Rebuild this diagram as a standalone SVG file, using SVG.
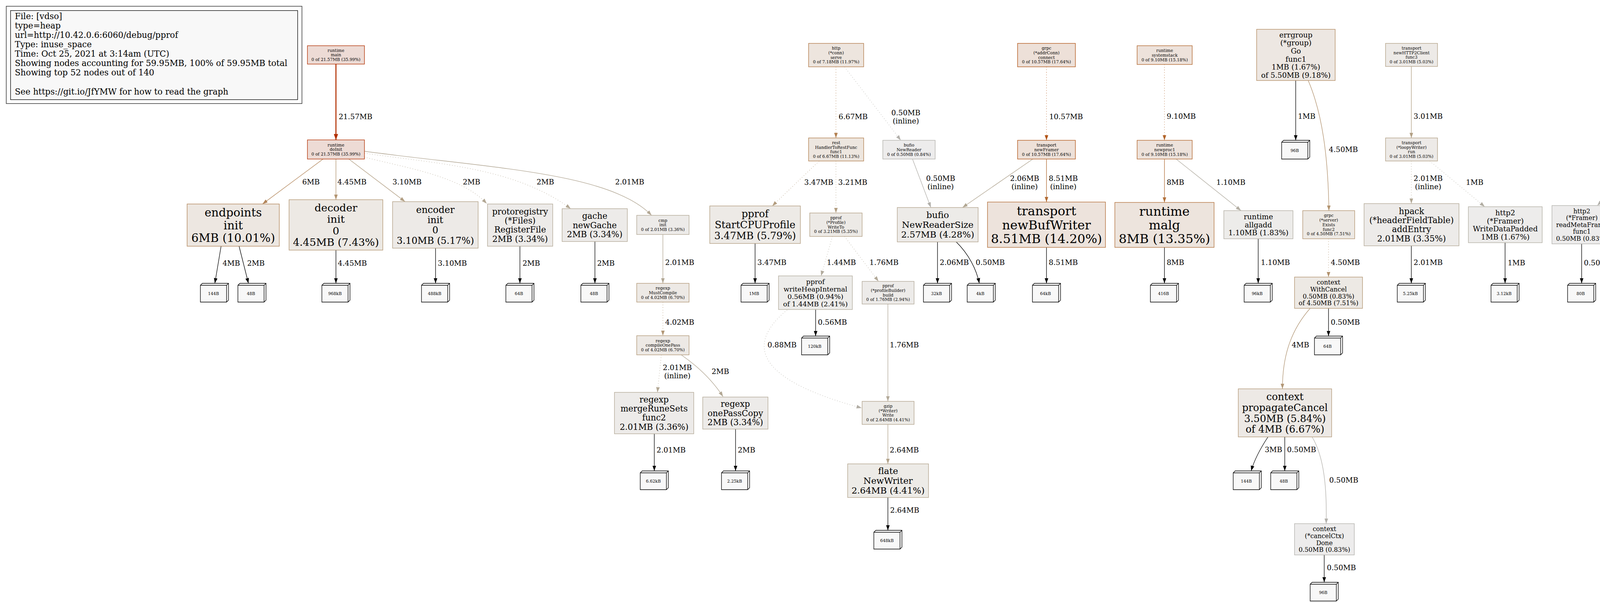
<svg xmlns="http://www.w3.org/2000/svg" xmlns:xlink="http://www.w3.org/1999/xlink" width="5163" height="1543" viewBox="0 0 5163 1543">
<style>
text{font-family:"DejaVu Serif","Liberation Serif",serif;text-anchor:middle;fill:#000}
.t8{font-size:10.67px}.t12{font-size:16px}.t13{font-size:17.33px}.t14{font-size:18.67px}.t16{font-size:21.33px}.t17{font-size:22.67px}.t18{font-size:24px}.t19{font-size:25.33px}.t20{font-size:26.67px}.t22{font-size:29.33px}.t24{font-size:32px}
.el{font-size:18.67px}
.lg{font-size:21.33px;text-anchor:start}
.node rect{stroke-width:1.33}
.leaf{fill:#f8f8f8;stroke:#000;stroke-width:1.33}
.e{fill:none;stroke-width:1.33}
.dot{stroke-dasharray:1.33 5.33}
.ck{stroke:#000;marker-end:url(#mk)}
.c2157{stroke:#b22f00;stroke-width:2.67;marker-end:url(#m2157)}
.c1057{stroke:#b25415;marker-end:url(#m1057)}
.c910{stroke:#b2652b;marker-end:url(#m910)}
.c851{stroke:#b26b33;marker-end:url(#m851)}
.c800{stroke:#b2713b;marker-end:url(#m800)}
.c667{stroke:#b27f4f;marker-end:url(#m667)}
.c600{stroke:#b28559;marker-end:url(#m600)}
.c450{stroke:#b2936f;marker-end:url(#m450)}
.c445{stroke:#b29470;marker-end:url(#m445)}
.c402{stroke:#b29776;marker-end:url(#m402)}
.c347{stroke:#b29c7e;marker-end:url(#m347)}
.c321{stroke:#b29e82;marker-end:url(#m321)}
.c310{stroke:#b29f84;marker-end:url(#m310)}
.c301{stroke:#b2a085;marker-end:url(#m301)}
.c264{stroke:#b2a38b;marker-end:url(#m264)}
.c206{stroke:#b2a793;marker-end:url(#m206)}
.c201{stroke:#b2a794;marker-end:url(#m201)}
.c176{stroke:#b2a998;marker-end:url(#m176)}
.c144{stroke:#b2ab9d;marker-end:url(#m144)}
.c110{stroke:#b2ada2;marker-end:url(#m110)}
.c101{stroke:#b2aea3;marker-end:url(#m101)}
.c088{stroke:#b2aea5;marker-end:url(#m088)}
.c050{stroke:#b2b0ab;marker-end:url(#m050)}
.n36{fill:#eddbd5;stroke:#b22f00}
.n176{fill:#ede0d8;stroke:#b25415}
.n152{fill:#ede2db;stroke:#b2652b}
.n142{fill:#ede3dc;stroke:#b26b33}
.n134{fill:#ede4dd;stroke:#b2713b}
.n120{fill:#ede5de;stroke:#b27947}
.n111{fill:#ede6df;stroke:#b27f4f}
.n100{fill:#ede7e1;stroke:#b28559}
.n092{fill:#ede7e2;stroke:#b28a60}
.n075{fill:#ede9e4;stroke:#b2936f}
.n074{fill:#ede9e4;stroke:#b29470}
.n067{fill:#ede9e5;stroke:#b29776}
.n058{fill:#edeae6;stroke:#b29c7e}
.n054{fill:#edeae6;stroke:#b29e82}
.n052{fill:#edeae7;stroke:#b29f84}
.n050{fill:#edeae7;stroke:#b2a085}
.n044{fill:#edebe7;stroke:#b2a38b}
.n043{fill:#edebe8;stroke:#b2a38c}
.n034{fill:#edebe9;stroke:#b2a794}
.n029{fill:#edebe9;stroke:#b2a998}
.n025{fill:#edecea;stroke:#b2ab9c}
.n018{fill:#edecea;stroke:#b2ada2}
.n017{fill:#edeceb;stroke:#b2aea3}
.n008{fill:#edecec;stroke:#b2b0ab}
</style>
<defs>
<path id="leaf" class="leaf" d="M0,5 L5,0 L72,0 L72,43 L67,48 L0,48 Z M0,5 L67,5 L72,0 M67,5 L67,48"/>
<marker id="mk" viewBox="0 0 13.3 9.3" refX="13.3" refY="4.65" markerWidth="13.3" markerHeight="9.3" markerUnits="userSpaceOnUse" orient="auto"><path d="M0,0L13.3,4.65L0,9.3z" fill="#000"/></marker>
<marker id="m2157" viewBox="0 0 15 11" refX="15" refY="5.5" markerWidth="15" markerHeight="11" markerUnits="userSpaceOnUse" orient="auto"><path d="M0,0L15,5.5L0,11z" fill="#b22f00"/></marker>
<marker id="m1057" viewBox="0 0 13.3 9.3" refX="13.3" refY="4.65" markerWidth="13.3" markerHeight="9.3" markerUnits="userSpaceOnUse" orient="auto"><path d="M0,0L13.3,4.65L0,9.3z" fill="#b25415"/></marker>
<marker id="m910" viewBox="0 0 13.3 9.3" refX="13.3" refY="4.65" markerWidth="13.3" markerHeight="9.3" markerUnits="userSpaceOnUse" orient="auto"><path d="M0,0L13.3,4.65L0,9.3z" fill="#b2652b"/></marker>
<marker id="m851" viewBox="0 0 13.3 9.3" refX="13.3" refY="4.65" markerWidth="13.3" markerHeight="9.3" markerUnits="userSpaceOnUse" orient="auto"><path d="M0,0L13.3,4.65L0,9.3z" fill="#b26b33"/></marker>
<marker id="m800" viewBox="0 0 13.3 9.3" refX="13.3" refY="4.65" markerWidth="13.3" markerHeight="9.3" markerUnits="userSpaceOnUse" orient="auto"><path d="M0,0L13.3,4.65L0,9.3z" fill="#b2713b"/></marker>
<marker id="m667" viewBox="0 0 13.3 9.3" refX="13.3" refY="4.65" markerWidth="13.3" markerHeight="9.3" markerUnits="userSpaceOnUse" orient="auto"><path d="M0,0L13.3,4.65L0,9.3z" fill="#b27f4f"/></marker>
<marker id="m600" viewBox="0 0 13.3 9.3" refX="13.3" refY="4.65" markerWidth="13.3" markerHeight="9.3" markerUnits="userSpaceOnUse" orient="auto"><path d="M0,0L13.3,4.65L0,9.3z" fill="#b28559"/></marker>
<marker id="m450" viewBox="0 0 13.3 9.3" refX="13.3" refY="4.65" markerWidth="13.3" markerHeight="9.3" markerUnits="userSpaceOnUse" orient="auto"><path d="M0,0L13.3,4.65L0,9.3z" fill="#b2936f"/></marker>
<marker id="m445" viewBox="0 0 13.3 9.3" refX="13.3" refY="4.65" markerWidth="13.3" markerHeight="9.3" markerUnits="userSpaceOnUse" orient="auto"><path d="M0,0L13.3,4.65L0,9.3z" fill="#b29470"/></marker>
<marker id="m402" viewBox="0 0 13.3 9.3" refX="13.3" refY="4.65" markerWidth="13.3" markerHeight="9.3" markerUnits="userSpaceOnUse" orient="auto"><path d="M0,0L13.3,4.65L0,9.3z" fill="#b29776"/></marker>
<marker id="m347" viewBox="0 0 13.3 9.3" refX="13.3" refY="4.65" markerWidth="13.3" markerHeight="9.3" markerUnits="userSpaceOnUse" orient="auto"><path d="M0,0L13.3,4.65L0,9.3z" fill="#b29c7e"/></marker>
<marker id="m321" viewBox="0 0 13.3 9.3" refX="13.3" refY="4.65" markerWidth="13.3" markerHeight="9.3" markerUnits="userSpaceOnUse" orient="auto"><path d="M0,0L13.3,4.65L0,9.3z" fill="#b29e82"/></marker>
<marker id="m310" viewBox="0 0 13.3 9.3" refX="13.3" refY="4.65" markerWidth="13.3" markerHeight="9.3" markerUnits="userSpaceOnUse" orient="auto"><path d="M0,0L13.3,4.65L0,9.3z" fill="#b29f84"/></marker>
<marker id="m301" viewBox="0 0 13.3 9.3" refX="13.3" refY="4.65" markerWidth="13.3" markerHeight="9.3" markerUnits="userSpaceOnUse" orient="auto"><path d="M0,0L13.3,4.65L0,9.3z" fill="#b2a085"/></marker>
<marker id="m264" viewBox="0 0 13.3 9.3" refX="13.3" refY="4.65" markerWidth="13.3" markerHeight="9.3" markerUnits="userSpaceOnUse" orient="auto"><path d="M0,0L13.3,4.65L0,9.3z" fill="#b2a38b"/></marker>
<marker id="m206" viewBox="0 0 13.3 9.3" refX="13.3" refY="4.65" markerWidth="13.3" markerHeight="9.3" markerUnits="userSpaceOnUse" orient="auto"><path d="M0,0L13.3,4.65L0,9.3z" fill="#b2a793"/></marker>
<marker id="m201" viewBox="0 0 13.3 9.3" refX="13.3" refY="4.65" markerWidth="13.3" markerHeight="9.3" markerUnits="userSpaceOnUse" orient="auto"><path d="M0,0L13.3,4.65L0,9.3z" fill="#b2a794"/></marker>
<marker id="m176" viewBox="0 0 13.3 9.3" refX="13.3" refY="4.65" markerWidth="13.3" markerHeight="9.3" markerUnits="userSpaceOnUse" orient="auto"><path d="M0,0L13.3,4.65L0,9.3z" fill="#b2a998"/></marker>
<marker id="m144" viewBox="0 0 13.3 9.3" refX="13.3" refY="4.65" markerWidth="13.3" markerHeight="9.3" markerUnits="userSpaceOnUse" orient="auto"><path d="M0,0L13.3,4.65L0,9.3z" fill="#b2ab9d"/></marker>
<marker id="m110" viewBox="0 0 13.3 9.3" refX="13.3" refY="4.65" markerWidth="13.3" markerHeight="9.3" markerUnits="userSpaceOnUse" orient="auto"><path d="M0,0L13.3,4.65L0,9.3z" fill="#b2ada2"/></marker>
<marker id="m101" viewBox="0 0 13.3 9.3" refX="13.3" refY="4.65" markerWidth="13.3" markerHeight="9.3" markerUnits="userSpaceOnUse" orient="auto"><path d="M0,0L13.3,4.65L0,9.3z" fill="#b2aea3"/></marker>
<marker id="m088" viewBox="0 0 13.3 9.3" refX="13.3" refY="4.65" markerWidth="13.3" markerHeight="9.3" markerUnits="userSpaceOnUse" orient="auto"><path d="M0,0L13.3,4.65L0,9.3z" fill="#b2aea5"/></marker>
<marker id="m050" viewBox="0 0 13.3 9.3" refX="13.3" refY="4.65" markerWidth="13.3" markerHeight="9.3" markerUnits="userSpaceOnUse" orient="auto"><path d="M0,0L13.3,4.65L0,9.3z" fill="#b2b0ab"/></marker>
</defs>
<rect width="5163" height="1543" fill="#fff"/>

<g id="legend">
<rect x="16" y="16" width="757" height="249" fill="none" stroke="#444" stroke-width="1.6"/>
<rect x="27" y="27" width="735" height="228" fill="#f8f8f8" stroke="#000" stroke-width="1.33"/>
<text class="lg" x="38" y="49">File: [vdso]</text>
<text class="lg" x="38" y="73">type=heap</text>
<text class="lg" x="38" y="97">url=http://10.42.0.6:6060/debug/pprof</text>
<text class="lg" x="38" y="121">Type: inuse_space</text>
<text class="lg" x="38" y="145">Time: Oct 25, 2021 at 3:14am (UTC)</text>
<text class="lg" x="38" y="169">Showing nodes accounting for 59.95MB, 100% of 59.95MB total</text>
<text class="lg" x="38" y="193">Showing top 52 nodes out of 140</text>
<text class="lg" x="38" y="242">See https://git.io/JfYMW for how to read the graph</text>
</g>

<g id="edges">
<g id="E1"><path class="e c2157" d="M860,164 L860,358"/><text class="el" x="910" y="305">21.57MB</text></g>
<g id="E2"><path class="e c600" d="M827,407 L672,522"/><text class="el" x="796" y="472">6MB</text></g>
<g id="E3"><path class="e c445" d="M860,407 L860,511"/><text class="el" x="901" y="472">4.45MB</text></g>
<g id="E4"><path class="e c310" d="M893,407 L1037,516"/><text class="el" x="1042" y="472">3.10MB</text></g>
<g id="E5"><path class="e c201 dot" d="M933,402 C1040,430 1180,450 1246,521"/><text class="el" x="1207" y="472">2MB</text></g>
<g id="E6"><path class="e c201 dot" d="M933,392 C1130,420 1320,430 1461,534"/><text class="el" x="1396" y="472">2MB</text></g>
<g id="E7"><path class="e c201" d="M933,387 C1250,430 1560,440 1668,551"/><text class="el" x="1612" y="472">2.01MB</text></g>
<g id="E8"><path class="e ck" d="M566,630 L550,725"/><text class="el" x="592" y="680">4MB</text></g>
<g id="E9"><path class="e ck" d="M612,630 L636,725"/><text class="el" x="655" y="680">2MB</text></g>
<g id="E10"><path class="e ck" d="M860,640 L860,725"/><text class="el" x="902" y="680">4.45MB</text></g>
<g id="E11"><path class="e ck" d="M1115,635 L1115,725"/><text class="el" x="1158" y="680">3.10MB</text></g>
<g id="E12"><path class="e ck" d="M1331,630 L1331,725"/><text class="el" x="1360" y="680">2MB</text></g>
<g id="E13"><path class="e ck" d="M1523,618 L1523,725"/><text class="el" x="1551" y="680">2MB</text></g>
<g id="E14"><path class="e c201" d="M1697,600 L1697,725"/><text class="el" x="1740" y="678">2.01MB</text></g>
<g id="E15"><path class="e c402 dot" d="M1697,773 L1697,859"/><text class="el" x="1740" y="831">4.02MB</text></g>
<g id="E16"><path class="e c201 dot" d="M1693,908 L1683,1004"/><text class="el" x="1734" y="947">2.01MB</text><text class="el" x="1734" y="968">(inline)</text></g>
<g id="E17"><path class="e c201" d="M1744,908 C1790,940 1825,975 1851,1015"/><text class="el" x="1844" y="957">2MB</text></g>
<g id="E18"><path class="e ck" d="M1675,1110 L1675,1205"/><text class="el" x="1718" y="1158">2.01MB</text></g>
<g id="E19"><path class="e ck" d="M1883,1098 L1883,1205"/><text class="el" x="1911" y="1158">2MB</text></g>
<g id="E20"><path class="e c667 dot" d="M2140,171 L2140,353"/><text class="el" x="2184" y="305">6.67MB</text></g>
<g id="E21"><path class="e c050 dot" d="M2162,171 L2306,359"/><text class="el" x="2319" y="295">0.50MB</text><text class="el" x="2319" y="316">(inline)</text></g>
<g id="E22"><path class="e c347 dot" d="M2097,412 L1977,527"/><text class="el" x="2096" y="473">3.47MB</text></g>
<g id="E23"><path class="e c321 dot" d="M2140,412 L2140,545"/><text class="el" x="2183" y="473">3.21MB</text></g>
<g id="E24"><path class="e ck" d="M1933,623 L1933,725"/><text class="el" x="1976" y="678">3.47MB</text></g>
<g id="E25"><path class="e c144 dot" d="M2131,605 L2102,706"/><text class="el" x="2154" y="678">1.44MB</text></g>
<g id="E26"><path class="e c176 dot" d="M2162,605 L2249,720"/><text class="el" x="2263" y="678">1.76MB</text></g>
<g id="E27"><path class="e ck" d="M2088,792 L2088,860"/><text class="el" x="2131" y="831">0.56MB</text></g>
<g id="E28"><path class="e c088 dot" d="M2015,793 C1910,880 1930,970 2206,1044"/><text class="el" x="2002" y="889">0.88MB</text></g>
<g id="E29"><path class="e c176" d="M2273,778 L2273,1027"/><text class="el" x="2315" y="889">1.76MB</text></g>
<g id="E30"><path class="e c264" d="M2273,1086 L2273,1187"/><text class="el" x="2315" y="1158">2.64MB</text></g>
<g id="E31"><path class="e ck" d="M2273,1273 L2273,1357"/><text class="el" x="2316" y="1312">2.64MB</text></g>
<g id="E32"><path class="e c050" d="M2336,407 L2383,531"/><text class="el" x="2408" y="463">0.50MB</text><text class="el" x="2408" y="484">(inline)</text></g>
<g id="E33"><path class="e c1057 dot" d="M2679,171 L2679,359"/><text class="el" x="2729" y="305">10.57MB</text></g>
<g id="E34"><path class="e c206" d="M2644,407 L2464,531"/><text class="el" x="2623" y="463">2.06MB</text><text class="el" x="2623" y="484">(inline)</text></g>
<g id="E35"><path class="e c851" d="M2679,407 L2679,517"/><text class="el" x="2722" y="463">8.51MB</text><text class="el" x="2722" y="484">(inline)</text></g>
<g id="E36"><path class="e ck" d="M2400,619 L2400,725"/><text class="el" x="2443" y="678">2.06MB</text></g>
<g id="E37"><path class="e ck" d="M2447,618 C2480,650 2500,690 2507,725"/><text class="el" x="2535" y="678">0.50MB</text></g>
<g id="E38"><path class="e ck" d="M2679,633 L2679,725"/><text class="el" x="2722" y="678">8.51MB</text></g>
<g id="E39"><path class="e c910 dot" d="M2981,165 L2981,359"/><text class="el" x="3024" y="304">9.10MB</text></g>
<g id="E40"><path class="e c800" d="M2981,407 L2981,518"/><text class="el" x="3009" y="473">8MB</text></g>
<g id="E41"><path class="e c110" d="M3011,407 L3177,539"/><text class="el" x="3151" y="473">1.10MB</text></g>
<g id="E42"><path class="e ck" d="M2981,633 L2981,725"/><text class="el" x="3009" y="678">8MB</text></g>
<g id="E43"><path class="e ck" d="M3221,611 L3221,725"/><text class="el" x="3265" y="678">1.10MB</text></g>
<g id="E44"><path class="e ck" d="M3317,206 L3317,359"/><text class="el" x="3345" y="304">1MB</text></g>
<g id="E45"><path class="e c450" d="M3349,206 C3385,290 3400,400 3402,539"/><text class="el" x="3439" y="389">4.50MB</text></g>
<g id="E46"><path class="e c450 dot" d="M3401,611 L3401,709"/><text class="el" x="3444" y="678">4.50MB</text></g>
<g id="E47"><path class="e ck" d="M3401,789 L3401,860"/><text class="el" x="3444" y="831">0.50MB</text></g>
<g id="E48"><path class="e c402" d="M3354,789 C3300,850 3283,920 3283,995"/><text class="el" x="3329" y="889">4MB</text></g>
<g id="E49"><path class="e ck" d="M3246,1118 C3225,1150 3210,1180 3203,1205"/><text class="el" x="3260" y="1157">3MB</text></g>
<g id="E50"><path class="e ck" d="M3289,1118 L3289,1205"/><text class="el" x="3332" y="1157">0.50MB</text></g>
<g id="E51"><path class="e c050" d="M3359,1118 C3390,1170 3397,1250 3395,1340"/><text class="el" x="3440" y="1235">0.50MB</text></g>
<g id="E52"><path class="e ck" d="M3390,1420 L3390,1490"/><text class="el" x="3434" y="1459">0.50MB</text></g>
<g id="E53"><path class="e c301" d="M3613,170 L3613,353"/><text class="el" x="3656" y="304">3.01MB</text></g>
<g id="E54"><path class="e c201 dot" d="M3613,412 L3613,521"/><text class="el" x="3656" y="463">2.01MB</text><text class="el" x="3656" y="484">(inline)</text></g>
<g id="E55"><path class="e c101 dot" d="M3660,412 L3801,529"/><text class="el" x="3775" y="473">1MB</text></g>
<g id="E56"><path class="e ck" d="M3613,629 L3613,725"/><text class="el" x="3656" y="678">2.01MB</text></g>
<g id="E57"><path class="e ck" d="M3853,621 L3853,725"/><text class="el" x="3882" y="679">1MB</text></g>
<g id="E58"><path class="e c101" d="M4245,170 L4245,353"/><text class="el" x="4274" y="305">1MB</text></g>
<g id="E59"><path class="e c050 dot" d="M4264,170 L4388,359"/><text class="el" x="4405" y="305">0.50MB</text></g>
<g id="E60"><path class="e c050 dot" d="M4202,412 L4089,526"/><text class="el" x="4202" y="472">0.50MB</text></g>
<g id="E61"><path class="e c050" d="M4245,412 L4245,543"/><text class="el" x="4288" y="472">0.50MB</text></g>
<g id="E62"><path class="e c050 dot" d="M4407,407 L4426,545"/><text class="el" x="4461" y="472">0.50MB</text></g>
<g id="E63"><path class="e ck" d="M4049,624 L4049,725"/><text class="el" x="4092" y="679">0.50MB</text></g>
<g id="E64"><path class="e ck" d="M4244,607 L4244,725"/><text class="el" x="4287" y="679">0.50MB</text></g>
<g id="E65"><path class="e c050" d="M4429,604 L4429,719"/><text class="el" x="4472" y="679">0.50MB</text></g>
<g id="E66"><path class="e ck" d="M4429,783 L4429,860"/><text class="el" x="4472" y="833">0.50MB</text></g>
<g id="E67"><path class="e c101 dot" d="M4805,165 L4805,359"/><text class="el" x="4849" y="304">1.01MB</text></g>
<g id="E68"><path class="e c101 dot" d="M4770,407 L4646,529"/><text class="el" x="4762" y="473">1.01MB</text></g>
<g id="E69"><path class="e c101" d="M4805,407 L4805,551"/><text class="el" x="4849" y="473">1.01MB</text></g>
<g id="E70"><path class="e ck" d="M4610,621 L4610,725"/><text class="el" x="4653" y="678">1.01MB</text></g>
<g id="E71"><path class="e c101 dot" d="M4772,599 C4728,640 4745,695 4779,725"/><text class="el" x="4777" y="678">1.01MB</text></g>
<g id="E72"><path class="e c101 dot" d="M4831,725 L4811,599"/><text class="el" x="4867" y="678">1.01MB</text></g>
<g id="E73"><path class="e c101 dot" d="M4874,725 C4940,640 4935,480 4858,407"/><text class="el" x="4981" y="580">1.01MB</text></g>
<g id="E74"><path class="e c050 dot" d="M5079,182 L5079,343"/><text class="el" x="5122" y="304">0.50MB</text></g>
<g id="E75"><path class="e ck" d="M5079,423 L5079,551"/><text class="el" x="5122" y="473">0.50MB</text></g>
</g>

<g id="nodes">
<g id="N_main" class="node"><rect class="n36" x="787" y="117" width="146" height="47"/><text class="t8"><tspan x="860" y="132.6">runtime</tspan><tspan x="860" y="144.3">main</tspan><tspan x="860" y="156.1">0 of 21.57MB (35.99%)</tspan></text></g>
<g id="N_doInit" class="node"><rect class="n36" x="787" y="358" width="146" height="49"/><text class="t8"><tspan x="860" y="374.6">runtime</tspan><tspan x="860" y="386.3">doInit</tspan><tspan x="860" y="398.1">0 of 21.57MB (35.99%)</tspan></text></g>
<g id="N_endpoints" class="node"><rect class="n100" x="479" y="522" width="236" height="108"/><text class="t22"><tspan x="597" y="554.3">endpoints</tspan><tspan x="597" y="586.6">init</tspan><tspan x="597" y="618.8">6MB (10.01%)</tspan></text></g>
<g id="N_decoder" class="node"><rect class="n074" x="740" y="511" width="240" height="129"/><text class="t20"><tspan x="860" y="541.1">decoder</tspan><tspan x="860" y="570.4">init</tspan><tspan x="860" y="599.8">0</tspan><tspan x="860" y="629.1">4.45MB (7.43%)</tspan></text></g>
<g id="N_encoder" class="node"><rect class="n052" x="1005" y="516" width="219" height="119"/><text class="t18"><tspan x="1114.5" y="544.5">encoder</tspan><tspan x="1114.5" y="570.9">init</tspan><tspan x="1114.5" y="597.3">0</tspan><tspan x="1114.5" y="623.7">3.10MB (5.17%)</tspan></text></g>
<g id="N_protoregistry" class="node"><rect class="n034" x="1248" y="522" width="167" height="108"/><text class="t16"><tspan x="1331.5" y="548.5">protoregistry</tspan><tspan x="1331.5" y="572">(*Files)</tspan><tspan x="1331.5" y="595.4">RegisterFile</tspan><tspan x="1331.5" y="618.9">2MB (3.34%)</tspan></text></g>
<g id="N_gache" class="node"><rect class="n034" x="1439" y="534" width="167" height="84"/><text class="t16"><tspan x="1522.5" y="560.2">gache</tspan><tspan x="1522.5" y="583.7">newGache</tspan><tspan x="1522.5" y="607.2">2MB (3.34%)</tspan></text></g>
<g id="N_cmpinit" class="node"><rect class="n034" x="1630" y="551" width="134" height="49"/><text class="t8"><tspan x="1697" y="567.6">cmp</tspan><tspan x="1697" y="579.3">init</tspan><tspan x="1697" y="591.1">0 of 2.01MB (3.36%)</tspan></text></g>
<g id="N_mustcompile" class="node"><rect class="n067" x="1630" y="725" width="134" height="48"/><text class="t8"><tspan x="1697" y="741.1">regexp</tspan><tspan x="1697" y="752.8">MustCompile</tspan><tspan x="1697" y="764.6">0 of 4.02MB (6.70%)</tspan></text></g>
<g id="N_compileonepass" class="node"><rect class="n067" x="1630" y="859" width="134" height="49"/><text class="t8"><tspan x="1697" y="875.6">regexp</tspan><tspan x="1697" y="887.3">compileOnePass</tspan><tspan x="1697" y="899.1">0 of 4.02MB (6.70%)</tspan></text></g>
<g id="N_mergerunesets" class="node"><rect class="n034" x="1573" y="1004" width="203" height="106"/><text class="t16"><tspan x="1674.5" y="1029.5">regexp</tspan><tspan x="1674.5" y="1053">mergeRuneSets</tspan><tspan x="1674.5" y="1076.4">func2</tspan><tspan x="1674.5" y="1099.9">2.01MB (3.36%)</tspan></text></g>
<g id="N_onepasscopy" class="node"><rect class="n034" x="1799" y="1016" width="167" height="82"/><text class="t16"><tspan x="1882.5" y="1041.2">regexp</tspan><tspan x="1882.5" y="1064.7">onePassCopy</tspan><tspan x="1882.5" y="1088.2">2MB (3.34%)</tspan></text></g>
<g id="N_startcpu" class="node"><rect class="n058" x="1817" y="527" width="232" height="96"/><text class="t19"><tspan x="1933" y="556.3">pprof</tspan><tspan x="1933" y="584.1">StartCPUProfile</tspan><tspan x="1933" y="612">3.47MB (5.79%)</tspan></text></g>
<g id="N_httpserve" class="node"><rect class="n120" x="2070" y="111" width="141" height="60"/><text class="t8"><tspan x="2140.5" y="127.2">http</tspan><tspan x="2140.5" y="139">(*conn)</tspan><tspan x="2140.5" y="150.7">serve</tspan><tspan x="2140.5" y="162.4">0 of 7.18MB (11.97%)</tspan></text></g>
<g id="N_handler" class="node"><rect class="n111" x="2070" y="353" width="141" height="59"/><text class="t8"><tspan x="2140.5" y="368.7">rest</tspan><tspan x="2140.5" y="380.5">HandlerToRestFunc</tspan><tspan x="2140.5" y="392.2">func1</tspan><tspan x="2140.5" y="403.9">0 of 6.67MB (11.13%)</tspan></text></g>
<g id="N_writeto" class="node"><rect class="n054" x="2073" y="545" width="134" height="60"/><text class="t8"><tspan x="2140" y="561.2">pprof</tspan><tspan x="2140" y="573">(*Profile)</tspan><tspan x="2140" y="584.7">WriteTo</tspan><tspan x="2140" y="596.4">0 of 3.21MB (5.35%)</tspan></text></g>
<g id="N_writeheap" class="node"><rect class="n025" x="1993" y="706" width="189" height="86"/><text class="t13"><tspan x="2087.5" y="726.6">pprof</tspan><tspan x="2087.5" y="745.7">writeHeapInternal</tspan><tspan x="2087.5" y="764.8">0.56MB (0.94%)</tspan><tspan x="2087.5" y="783.9">of 1.44MB (2.41%)</tspan></text></g>
<g id="N_build" class="node"><rect class="n029" x="2207" y="720" width="133" height="58"/><text class="t8"><tspan x="2273.5" y="735.2">pprof</tspan><tspan x="2273.5" y="747">(*profileBuilder)</tspan><tspan x="2273.5" y="758.7">build</tspan><tspan x="2273.5" y="770.4">0 of 1.76MB (2.94%)</tspan></text></g>
<g id="N_gzip" class="node"><rect class="n044" x="2207" y="1027" width="133" height="59"/><text class="t8"><tspan x="2273.5" y="1042.7">gzip</tspan><tspan x="2273.5" y="1054.5">(*Writer)</tspan><tspan x="2273.5" y="1066.2">Write</tspan><tspan x="2273.5" y="1077.9">0 of 2.64MB (4.41%)</tspan></text></g>
<g id="N_flate" class="node"><rect class="n044" x="2170" y="1187" width="207" height="86"/><text class="t17"><tspan x="2273.5" y="1213.2">flate</tspan><tspan x="2273.5" y="1238.2">NewWriter</tspan><tspan x="2273.5" y="1263.1">2.64MB (4.41%)</tspan></text></g>
<g id="N_newreader" class="node"><rect class="n008" x="2260" y="359" width="134" height="48"/><text class="t8"><tspan x="2327" y="375.1">bufio</tspan><tspan x="2327" y="386.8">NewReader</tspan><tspan x="2327" y="398.6">0 of 0.50MB (0.84%)</tspan></text></g>
<g id="N_newreadersize" class="node"><rect class="n043" x="2297" y="531" width="207" height="88"/><text class="t17"><tspan x="2400.5" y="558.2">bufio</tspan><tspan x="2400.5" y="583.2">NewReaderSize</tspan><tspan x="2400.5" y="608.1">2.57MB (4.28%)</tspan></text></g>
<g id="N_connect" class="node"><rect class="n176" x="2605" y="111" width="148" height="60"/><text class="t8"><tspan x="2679" y="127.2">grpc</tspan><tspan x="2679" y="139">(*addrConn)</tspan><tspan x="2679" y="150.7">connect</tspan><tspan x="2679" y="162.4">0 of 10.57MB (17.64%)</tspan></text></g>
<g id="N_newframer" class="node"><rect class="n176" x="2605" y="359" width="148" height="48"/><text class="t8"><tspan x="2679" y="375.1">transport</tspan><tspan x="2679" y="386.8">newFramer</tspan><tspan x="2679" y="398.6">0 of 10.57MB (17.64%)</tspan></text></g>
<g id="N_newbufwriter" class="node"><rect class="n142" x="2528" y="517" width="302" height="116"/><text class="t24"><tspan x="2679" y="551.3">transport</tspan><tspan x="2679" y="586.5">newBufWriter</tspan><tspan x="2679" y="621.7">8.51MB (14.20%)</tspan></text></g>
<g id="N_systemstack" class="node"><rect class="n152" x="2911" y="117" width="141" height="48"/><text class="t8"><tspan x="2981.5" y="133.1">runtime</tspan><tspan x="2981.5" y="144.8">systemstack</tspan><tspan x="2981.5" y="156.6">0 of 9.10MB (15.18%)</tspan></text></g>
<g id="N_newproc1" class="node"><rect class="n152" x="2911" y="359" width="141" height="48"/><text class="t8"><tspan x="2981.5" y="375.1">runtime</tspan><tspan x="2981.5" y="386.8">newproc1</tspan><tspan x="2981.5" y="398.6">0 of 9.10MB (15.18%)</tspan></text></g>
<g id="N_malg" class="node"><rect class="n134" x="2854" y="518" width="254" height="115"/><text class="t24"><tspan x="2981" y="551.8">runtime</tspan><tspan x="2981" y="587">malg</tspan><tspan x="2981" y="622.2">8MB (13.35%)</tspan></text></g>
<g id="N_allgadd" class="node"><rect class="n018" x="3133" y="539" width="177" height="72"/><text class="t14"><tspan x="3221.5" y="561.2">runtime</tspan><tspan x="3221.5" y="581.7">allgadd</tspan><tspan x="3221.5" y="602.3">1.10MB (1.83%)</tspan></text></g>
<g id="N_errgroup" class="node"><rect class="n092" x="3217" y="75" width="201" height="131"/><text class="t14"><tspan x="3317.5" y="95.9">errgroup</tspan><tspan x="3317.5" y="116.4">(*group)</tspan><tspan x="3317.5" y="137">Go</tspan><tspan x="3317.5" y="157.5">func1</tspan><tspan x="3317.5" y="178">1MB (1.67%)</tspan><tspan x="3317.5" y="198.6">of 5.50MB (9.18%)</tspan></text></g>
<g id="N_exists" class="node"><rect class="n075" x="3335" y="539" width="133" height="72"/><text class="t8"><tspan x="3401.5" y="555.4">grpc</tspan><tspan x="3401.5" y="567.1">(*server)</tspan><tspan x="3401.5" y="578.8">Exists</tspan><tspan x="3401.5" y="590.6">func2</tspan><tspan x="3401.5" y="602.3">0 of 4.50MB (7.51%)</tspan></text></g>
<g id="N_withcancel" class="node"><rect class="n075" x="3314" y="709" width="174" height="80"/><text class="t12"><tspan x="3401" y="728.4">context</tspan><tspan x="3401" y="746">WithCancel</tspan><tspan x="3401" y="763.6">0.50MB (0.83%)</tspan><tspan x="3401" y="781.2">of 4.50MB (7.51%)</tspan></text></g>
<g id="N_propagatecancel" class="node"><rect class="n067" x="3170" y="995" width="239" height="123"/><text class="t19"><tspan x="3289.5" y="1023.8">context</tspan><tspan x="3289.5" y="1051.7">propagateCancel</tspan><tspan x="3289.5" y="1079.6">3.50MB (5.84%)</tspan><tspan x="3289.5" y="1107.4">of 4MB (6.67%)</tspan></text></g>
<g id="N_done" class="node"><rect class="n008" x="3314" y="1340" width="153" height="80"/><text class="t12"><tspan x="3390.5" y="1359.4">context</tspan><tspan x="3390.5" y="1377">(*cancelCtx)</tspan><tspan x="3390.5" y="1394.6">Done</tspan><tspan x="3390.5" y="1412.2">0.50MB (0.83%)</tspan></text></g>
<g id="N_http2func3" class="node"><rect class="n050" x="3547" y="111" width="133" height="59"/><text class="t8"><tspan x="3613.5" y="126.7">transport</tspan><tspan x="3613.5" y="138.5">newHTTP2Client</tspan><tspan x="3613.5" y="150.2">func3</tspan><tspan x="3613.5" y="161.9">0 of 3.01MB (5.03%)</tspan></text></g>
<g id="N_loopy" class="node"><rect class="n050" x="3547" y="353" width="133" height="59"/><text class="t8"><tspan x="3613.5" y="368.7">transport</tspan><tspan x="3613.5" y="380.5">(*loopyWriter)</tspan><tspan x="3613.5" y="392.2">run</tspan><tspan x="3613.5" y="403.9">0 of 3.01MB (5.03%)</tspan></text></g>
<g id="N_hpack" class="node"><rect class="n034" x="3492" y="521" width="243" height="108"/><text class="t16"><tspan x="3613.5" y="547.5">hpack</tspan><tspan x="3613.5" y="571">(*headerFieldTable)</tspan><tspan x="3613.5" y="594.4">addEntry</tspan><tspan x="3613.5" y="617.9">2.01MB (3.35%)</tspan></text></g>
<g id="N_writedata" class="node"><rect class="n017" x="3759" y="529" width="189" height="92"/><text class="t14"><tspan x="3853.5" y="550.9">http2</tspan><tspan x="3853.5" y="571.5">(*Framer)</tspan><tspan x="3853.5" y="592">WriteDataPadded</tspan><tspan x="3853.5" y="612.5">1MB (1.67%)</tspan></text></g>
<g id="N_reader" class="node"><rect class="n025" x="4179" y="111" width="133" height="59"/><text class="t8"><tspan x="4245.5" y="126.7">transport</tspan><tspan x="4245.5" y="138.5">(*http2Client)</tspan><tspan x="4245.5" y="150.2">reader</tspan><tspan x="4245.5" y="161.9">0 of 1.50MB (2.50%)</tspan></text></g>
<g id="N_readframe" class="node"><rect class="n017" x="4187" y="353" width="117" height="59"/><text class="t8"><tspan x="4245.5" y="368.7">http2</tspan><tspan x="4245.5" y="380.5">(*Framer)</tspan><tspan x="4245.5" y="392.2">ReadFrame</tspan><tspan x="4245.5" y="403.9">0 of 1MB (1.67%)</tspan></text></g>
<g id="N_clone" class="node"><rect class="n008" x="4337" y="359" width="135" height="48"/><text class="t8"><tspan x="4404.5" y="375.1">proto</tspan><tspan x="4404.5" y="386.8">Clone</tspan><tspan x="4404.5" y="398.6">0 of 0.50MB (0.84%)</tspan></text></g>
<g id="N_readmeta" class="node"><rect class="n008" x="3973" y="526" width="153" height="98"/><text class="t12"><tspan x="4049.5" y="545.6">http2</tspan><tspan x="4049.5" y="563.2">(*Framer)</tspan><tspan x="4049.5" y="580.8">readMetaFrame</tspan><tspan x="4049.5" y="598.4">func1</tspan><tspan x="4049.5" y="616">0.50MB (0.83%)</tspan></text></g>
<g id="N_parsehdr" class="node"><rect class="n008" x="4150" y="543" width="188" height="64"/><text class="t12"><tspan x="4244" y="563.2">http2</tspan><tspan x="4244" y="580.8">parseHeadersFrame</tspan><tspan x="4244" y="598.4">0.50MB (0.83%)</tspan></text></g>
<g id="N_mergeptr" class="node"><rect class="n008" x="4362" y="545" width="135" height="59"/><text class="t8"><tspan x="4429.5" y="560.7">impl</tspan><tspan x="4429.5" y="572.5">(*MessageInfo)</tspan><tspan x="4429.5" y="584.2">mergePointer</tspan><tspan x="4429.5" y="595.9">0 of 0.50MB (0.84%)</tspan></text></g>
<g id="N_mergebytes" class="node"><rect class="n008" x="4340" y="719" width="178" height="64"/><text class="t12"><tspan x="4429" y="739.2">impl</tspan><tspan x="4429" y="756.8">mergeBytesNoZero</tspan><tspan x="4429" y="774.4">0.50MB (0.84%)</tspan></text></g>
<g id="N_createenc" class="node"><rect class="n017" x="4733" y="117" width="145" height="48"/><text class="t8"><tspan x="4805.5" y="133.1">go</tspan><tspan x="4805.5" y="144.8">_createEncoderOfType</tspan><tspan x="4805.5" y="156.6">0 of 1.01MB (1.68%)</tspan></text></g>
<g id="N_describe" class="node"><rect class="n017" x="4738" y="359" width="135" height="48"/><text class="t8"><tspan x="4805.5" y="375.1">go</tspan><tspan x="4805.5" y="386.8">describeStruct</tspan><tspan x="4805.5" y="398.6">0 of 1.01MB (1.68%)</tspan></text></g>
<g id="N_sync" class="node"><rect class="n017" x="4521" y="529" width="179" height="92"/><text class="t14"><tspan x="4610.5" y="550.9">sync</tspan><tspan x="4610.5" y="571.5">(*Map)</tspan><tspan x="4610.5" y="592">dirtyLocked</tspan><tspan x="4610.5" y="612.5">1.01MB (1.68%)</tspan></text></g>
<g id="N_decoderof" class="node"><rect class="n017" x="4738" y="551" width="135" height="48"/><text class="t8"><tspan x="4805.5" y="567.1">go</tspan><tspan x="4805.5" y="578.8">decoderOfType</tspan><tspan x="4805.5" y="590.6">0 of 1.01MB (1.68%)</tspan></text></g>
<g id="N_createdec" class="node"><rect class="n017" x="4763" y="725" width="144" height="48"/><text class="t8"><tspan x="4835" y="741.1">go</tspan><tspan x="4835" y="752.8">_createDecoderOfType</tspan><tspan x="4835" y="764.6">0 of 1.01MB (1.68%)</tspan></text></g>
<g id="N_servestreams" class="node"><rect class="n008" x="5012" y="99" width="134" height="83"/><text class="t8"><tspan x="5079" y="115">grpc</tspan><tspan x="5079" y="126.7">(*Server)</tspan><tspan x="5079" y="138.5">serveStreams</tspan><tspan x="5079" y="150.2">func1</tspan><tspan x="5079" y="161.9">2</tspan><tspan x="5079" y="173.7">0 of 0.50MB (0.84%)</tspan></text></g>
<g id="N_payload" class="node"><rect class="n008" x="5001" y="343" width="156" height="80"/><text class="t12"><tspan x="5079" y="362.4">payload</tspan><tspan x="5079" y="380">(*Object_Vector)</tspan><tspan x="5079" y="397.6">UnmarshalVT</tspan><tspan x="5079" y="415.2">0.50MB (0.84%)</tspan></text></g>

<g id="L_endpoints_144B"><use href="#leaf" x="513" y="725"/><text class="t8" x="546.5" y="755.3">144B</text></g>
<g id="L_endpoints_48B"><use href="#leaf" x="609" y="725"/><text class="t8" x="642.5" y="755.3">48B</text></g>
<g id="L_decoder_968kB"><use href="#leaf" x="824" y="725"/><text class="t8" x="857.5" y="755.3">968kB</text></g>
<g id="L_encoder_488kB"><use href="#leaf" x="1079" y="725"/><text class="t8" x="1112.5" y="755.3">488kB</text></g>
<g id="L_protoreg_64B"><use href="#leaf" x="1295" y="725"/><text class="t8" x="1328.5" y="755.3">64B</text></g>
<g id="L_gache_48B"><use href="#leaf" x="1487" y="725"/><text class="t8" x="1520.5" y="755.3">48B</text></g>
<g id="L_startcpu_1MB"><use href="#leaf" x="1897" y="725"/><text class="t8" x="1930.5" y="755.3">1MB</text></g>
<g id="L_nrs_32kB"><use href="#leaf" x="2364" y="725"/><text class="t8" x="2397.5" y="755.3">32kB</text></g>
<g id="L_nrs_4kB"><use href="#leaf" x="2476" y="725"/><text class="t8" x="2509.5" y="755.3">4kB</text></g>
<g id="L_nbw_64kB"><use href="#leaf" x="2643" y="725"/><text class="t8" x="2676.5" y="755.3">64kB</text></g>
<g id="L_malg_416B"><use href="#leaf" x="2945" y="725"/><text class="t8" x="2978.5" y="755.3">416B</text></g>
<g id="L_allgadd_96kB"><use href="#leaf" x="3185" y="725"/><text class="t8" x="3218.5" y="755.3">96kB</text></g>
<g id="L_hpack_525kB"><use href="#leaf" x="3577" y="725"/><text class="t8" x="3610.5" y="755.3">5.25kB</text></g>
<g id="L_writedata_312kB"><use href="#leaf" x="3817" y="725"/><text class="t8" x="3850.5" y="755.3">3.12kB</text></g>
<g id="L_readmeta_80B"><use href="#leaf" x="4013" y="725"/><text class="t8" x="4046.5" y="755.3">80B</text></g>
<g id="L_parsehdr_48B"><use href="#leaf" x="4208" y="725"/><text class="t8" x="4241.5" y="755.3">48B</text></g>
<g id="L_sync_8kB"><use href="#leaf" x="4574" y="725"/><text class="t8" x="4607.5" y="755.3">8kB</text></g>
<g id="L_errgroup_96B"><use href="#leaf" x="3281" y="359"/><text class="t8" x="3314.5" y="389.3">96B</text></g>
<g id="L_payload_312kB"><use href="#leaf" x="5043" y="551"/><text class="t8" x="5076.5" y="581.3">3.12kB</text></g>
<g id="L_writeheap_120kB"><use href="#leaf" x="2052" y="860"/><text class="t8" x="2085.5" y="890.3">120kB</text></g>
<g id="L_withcancel_64B"><use href="#leaf" x="3365" y="860"/><text class="t8" x="3398.5" y="890.3">64B</text></g>
<g id="L_mergebytes_338kB"><use href="#leaf" x="4393" y="860"/><text class="t8" x="4426.5" y="890.3">3.38kB</text></g>
<g id="L_mergerune_662kB"><use href="#leaf" x="1639" y="1205"/><text class="t8" x="1672.5" y="1235.3">6.62kB</text></g>
<g id="L_onepass_225kB"><use href="#leaf" x="1847" y="1205"/><text class="t8" x="1880.5" y="1235.3">2.25kB</text></g>
<g id="L_propagate_144B"><use href="#leaf" x="3157" y="1205"/><text class="t8" x="3190.5" y="1235.3">144B</text></g>
<g id="L_propagate_48B"><use href="#leaf" x="3253" y="1205"/><text class="t8" x="3286.5" y="1235.3">48B</text></g>
<g id="L_flate_648kB"><use href="#leaf" x="2237" y="1357"/><text class="t8" x="2270.5" y="1387.3">648kB</text></g>
<g id="L_done_96B"><use href="#leaf" x="3354" y="1490"/><text class="t8" x="3387.5" y="1520.3">96B</text></g>
</g>
</svg>
